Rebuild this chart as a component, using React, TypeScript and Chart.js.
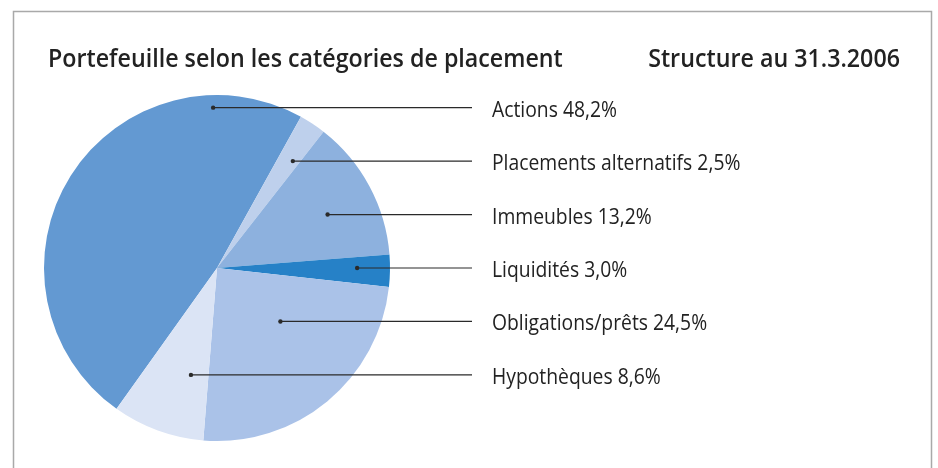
import React, { useEffect, useRef } from 'react';
import { Chart, registerables } from 'chart.js';

Chart.register(...registerables);

const categories = ['Actions', 'Placements alternatifs', 'Immeubles', 'Liquidités', 'Obligations/prêts', 'Hypothèques'];
const shares = [48.2, 2.5, 13.2, 3.0, 24.5, 8.6];
const shareLabels = ['48,2%', '2,5%', '13,2%', '3,0%', '24,5%', '8,6%'];
const sliceColors = ['#6399D2', '#BED0EC', '#8DB1DE', '#2681C7', '#AAC2E8', '#DBE4F5'];
const titleLeft = 'Portefeuille selon les catégories de placement';
const titleRight = 'Structure au 31.3.2006';

// styling / layout constants
const leaderAnchor = [0.47, 0.68, 0.56, 0.81, 0.4, 0.74];
const FONT_FAMILY = '"Open Sans", "DejaVu Sans", sans-serif';
const TITLE_CONDENSE = 0.93;
const LABEL_CONDENSE = 0.92;
const TEXT_COLOR = '#222222';

function drawCondensed(ctx: CanvasRenderingContext2D, text: string, x: number, y: number, font: string, align: 'left' | 'right', k: number) {
  ctx.save();
  ctx.font = font;
  ctx.fillStyle = TEXT_COLOR;
  ctx.textBaseline = 'alphabetic';
  ctx.textAlign = 'left';
  const w = ctx.measureText(text).width * k;
  const x0 = align === 'left' ? x : x - w;
  ctx.translate(x0, y);
  ctx.scale(k, 1);
  ctx.fillText(text, 0, 0);
  ctx.restore();
}

const overlayPlugin = {
  id: 'overlay',
  afterDraw(chart: any) {
    const ctx: CanvasRenderingContext2D = chart.ctx;
    const meta = chart.getDatasetMeta(0);
    const first = meta.data[0];
    const cx = first.x;
    const cy = first.y;
    const r = first.outerRadius;

    // frame
    ctx.save();
    ctx.strokeStyle = '#a9a9a9';
    ctx.lineWidth = 1.5;
    ctx.beginPath();
    ctx.moveTo(13.5, chart.height + 5);
    ctx.lineTo(13.5, 11.5);
    ctx.lineTo(931.5, 11.5);
    ctx.lineTo(931.5, chart.height + 5);
    ctx.stroke();
    ctx.restore();

    drawCondensed(ctx, titleLeft, 48, 67, `600 25px ${FONT_FAMILY}`, 'left', TITLE_CONDENSE);
    drawCondensed(ctx, titleRight, 900, 67, `600 25px ${FONT_FAMILY}`, 'right', TITLE_CONDENSE);

    const gap = r * 0.309;
    const lineEnd = 472;
    const textX = 492;
    categories.forEach((cat, i) => {
      const y = cy + (i - 3) * gap;
      const arc = meta.data[i];
      let minX = Infinity;
      let maxX = -Infinity;
      for (let x = cx - r; x <= cx + r; x += 0.5) {
        if (arc.inRange(x, y)) {
          if (x < minX) minX = x;
          if (x > maxX) maxX = x;
        }
      }
      if (!isFinite(minX)) { minX = cx; maxX = cx; }
      const dotX = minX + leaderAnchor[i] * (maxX - minX);
      ctx.save();
      ctx.strokeStyle = '#2a2a2a';
      ctx.fillStyle = '#2a2a2a';
      ctx.lineWidth = 1.2;
      ctx.beginPath();
      ctx.moveTo(dotX, y);
      ctx.lineTo(lineEnd, y);
      ctx.stroke();
      ctx.beginPath();
      ctx.arc(dotX, y, 2.2, 0, Math.PI * 2);
      ctx.fill();
      ctx.restore();
      drawCondensed(ctx, `${cat} ${shareLabels[i]}`, textX, y + 9, `400 21px ${FONT_FAMILY}`, 'left', LABEL_CONDENSE);
    });
  },
};

export default function App() {
  const canvasRef = useRef<HTMLCanvasElement | null>(null);
  useEffect(() => {
    if (!canvasRef.current) return;
    const chart = new Chart(canvasRef.current, {
      type: 'pie',
      data: {
        labels: categories,
        datasets: [
          {
            data: shares,
            backgroundColor: sliceColors,
            borderWidth: 0,
          },
        ],
      },
      options: {
        animation: false,
        responsive: true,
        maintainAspectRatio: false,
        rotation: 215.5,
        layout: { padding: { left: 44, right: 548, top: 95, bottom: 27 } },
        plugins: {
          legend: { display: false },
          tooltip: { enabled: false },
          title: { display: false },
        },
      },
      plugins: [overlayPlugin],
    });
    return () => chart.destroy();
  }, []);
  return (
    <div style={{ position: 'absolute', left: 0, top: 0, width: 938, height: 468, background: '#ffffff' }}>
      <canvas ref={canvasRef} />
    </div>
  );
}
